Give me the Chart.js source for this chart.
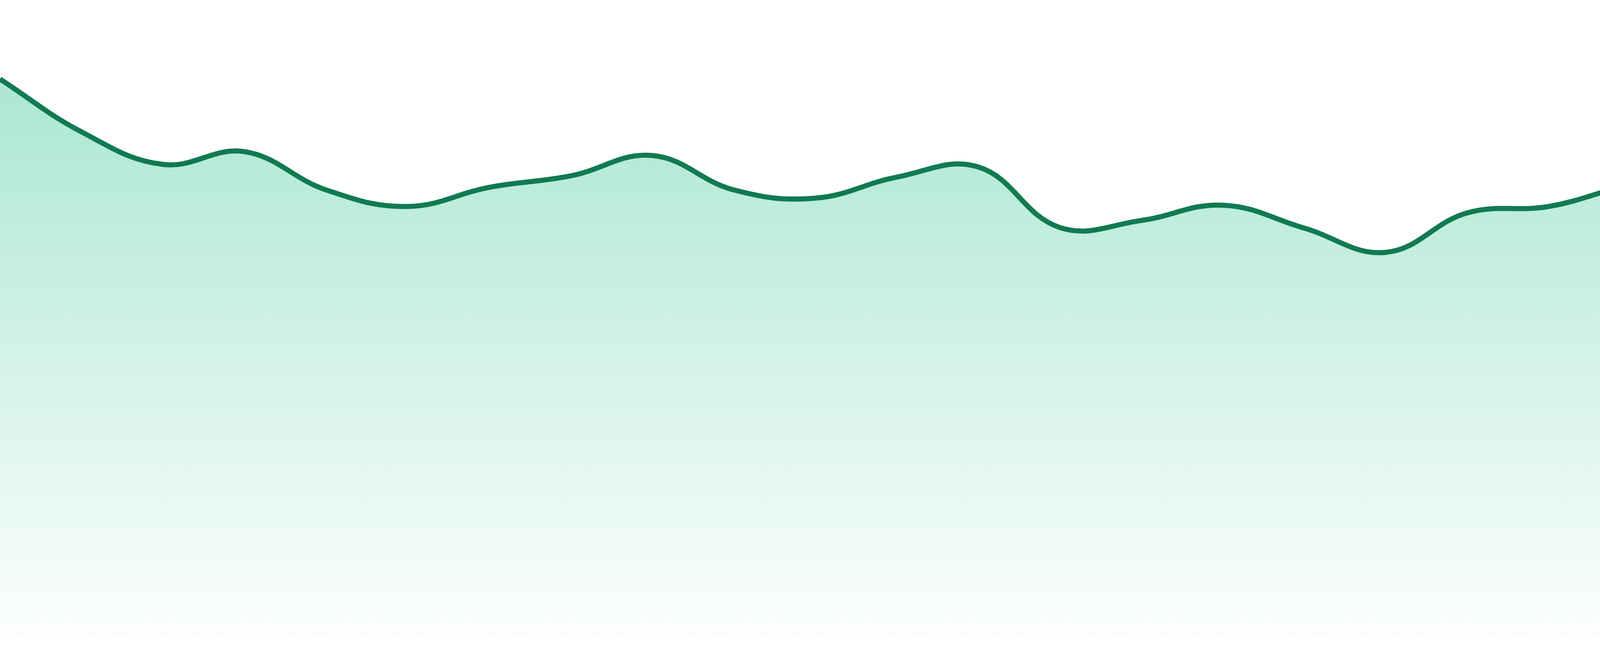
<!DOCTYPE html>
<html>
<head>
<meta charset="utf-8">
<title>Area trend</title>
<script src="https://cdn.jsdelivr.net/npm/chart.js@4"></script>
<style>
  html, body { margin: 0; padding: 0; background: #ffffff; overflow: hidden; }
  #chartBox { width: 4800px; height: 1680px; }
  #chartArea { display: block; }
</style>
</head>
<body>
<div id="chartBox">
  <canvas id="chartArea" width="4800" height="1680"></canvas>
</div>
<script>
// Labels for the x axis (one per point, axis is hidden)
var labels = [];
for (var i = 1; i <= 24; i++) {
  labels.push(String(i));
}

// Series values (0-100 scale)
var values = [
  87.6, 79.3, 74.2, 76.2, 70.2, 67.6, 70.6, 72.4,
  75.6, 70.2, 68.9, 72.2, 73.8, 64.3, 65.4, 67.8,
  64.2, 60.4, 66.6, 67.6, 71.0, 73.0, 75.1, 78.4
];

var lineColor = '#117a52';

// Vertical fade under the line
function makeFill(context) {
  var chart = context.chart;
  var area = chart.chartArea;
  if (!area) {
    return 'rgba(16, 185, 129, 0.2)';
  }
  var grad = chart.ctx.createLinearGradient(0, area.top, 0, area.bottom);
  grad.addColorStop(0, 'rgba(16, 185, 129, 0.40)');
  grad.addColorStop(1, 'rgba(16, 185, 129, 0.01)');
  return grad;
}

var ctx = document.getElementById('chartArea').getContext('2d');
var myChart = new Chart(ctx, {
  type: 'line',
  data: {
    labels: labels,
    datasets: [{
      data: values,
      borderColor: lineColor,
      borderWidth: 13,
      backgroundColor: makeFill,
      fill: 'origin',
      tension: 0.4,
      pointRadius: 0,
      pointHoverRadius: 0
    }]
  },
  options: {
    responsive: false,
    devicePixelRatio: 1,
    animation: false,
    layout: {
      padding: { top: 0, right: 0, bottom: 48, left: 0 }
    },
    plugins: {
      legend: { display: false },
      tooltip: { enabled: false }
    },
    scales: {
      x: { display: false },
      y: { display: false, min: 0, max: 100 }
    }
  }
});
</script>
</body>
</html>
